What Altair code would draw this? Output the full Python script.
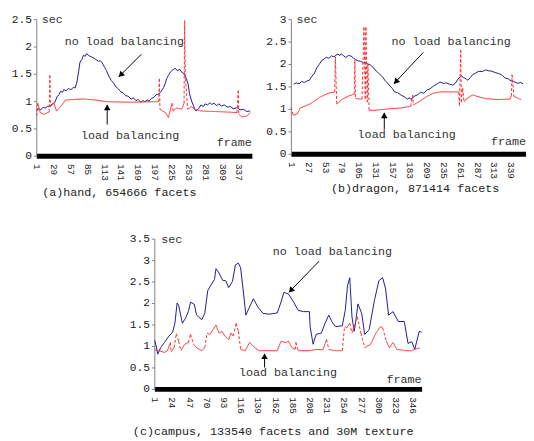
import altair as alt
import numpy as np
import pandas as pd

FONT = "Liberation Mono"
BLUE = "#1c1c8e"
RED = "#ff2b2b"
INK = "#222222"

# ---------------- (a) hand ----------------
a_blue_f = [1, 4, 8, 12, 16, 19, 23, 27, 31, 35, 38, 41, 44, 46, 50, 54, 58, 62, 65, 68,
            71, 73, 76, 79, 82, 84, 88, 92, 96, 100, 104, 107, 110, 114, 117, 121, 125, 129, 133, 137,
            141, 145, 149, 153, 158, 162, 166, 170, 174, 177, 181, 185, 188, 192, 196, 200, 204, 208, 212, 215,
            217, 220, 223, 227, 231, 235, 239, 242, 245, 248, 250, 253, 255, 258, 261, 264, 266, 270, 274, 278,
            281, 285, 289, 292, 296, 300, 304, 308, 313, 318, 323, 328, 334, 339, 345, 350, 356]
a_blue_v = [0.82, 0.86, 0.84, 0.89, 0.87, 0.91, 0.90, 0.95, 0.97, 1.08, 1.12, 1.18, 1.16, 1.21, 1.19, 1.23, 1.21, 1.25, 1.24, 1.35,
            1.55, 1.71, 1.76, 1.84, 1.82, 1.87, 1.83, 1.81, 1.79, 1.76, 1.73, 1.74, 1.70, 1.62, 1.56, 1.46, 1.38, 1.33, 1.26, 1.22,
            1.17, 1.15, 1.10, 1.09, 1.04, 1.06, 1.01, 1.03, 0.98, 1.01, 0.99, 1.02, 1.00, 1.05, 1.07, 1.12, 1.13, 1.18, 1.25, 1.33,
            1.41, 1.47, 1.53, 1.57, 1.60, 1.56, 1.58, 1.53, 1.51, 1.46, 1.41, 1.30, 1.14, 1.02, 0.93, 0.85, 0.82, 0.86, 0.93, 0.90,
            0.95, 0.93, 0.97, 0.94, 0.96, 0.92, 0.95, 0.91, 0.93, 0.89, 0.90, 0.86, 0.88, 0.84, 0.85, 0.81, 0.82]
a_red_f = [1, 3, 7, 13, 22, 23, 24, 30, 34, 41, 49, 79, 100, 117, 155, 204, 205, 206, 210, 215,
           220, 226, 228, 234, 242, 246, 247, 248, 252, 258, 264, 274, 318, 334, 336, 337, 342, 351, 356]
a_red_v = [0.73, 0.96, 0.79, 0.76, 0.80, 1.47, 0.90, 0.96, 0.82, 0.90, 1.02, 1.04, 1.02, 0.99, 0.98, 0.99, 1.41, 0.85, 0.82, 0.79,
           0.70, 0.96, 0.82, 0.875, 0.85, 0.96, 2.48, 1.50, 0.85, 0.90, 0.85, 0.82, 0.80, 0.79, 1.19, 0.76, 0.71, 0.73, 0.79]
a_xticks = [1, 29, 57, 85, 113, 141, 169, 197, 225, 253, 281, 309, 337]
a_yticks = [0, 0.5, 1, 1.5, 2, 2.5]

# ---------------- (b) dragon ----------------
b_blue_f = [5, 9, 13, 17, 21, 25, 29, 33, 37, 40, 44, 48, 52, 55, 59, 63, 67, 70, 73, 76,
            78, 82, 85, 89, 93, 97, 100, 104, 108, 112, 115, 119, 123, 127, 130, 134, 138, 142, 145, 149,
            153, 157, 160, 165, 170, 175, 180, 183, 185, 188, 190, 195, 200, 205, 210, 215, 220, 225, 230, 235,
            240, 245, 250, 254, 258, 261, 263, 266, 268, 271, 273, 277, 280, 285, 290, 295, 300, 305, 310, 315,
            320, 325, 330, 335, 340, 345, 350, 354, 358]
b_blue_v = [1.55, 1.58, 1.56, 1.61, 1.59, 1.62, 1.64, 1.73, 1.80, 1.91, 1.99, 2.08, 2.12, 2.15, 2.13, 2.18, 2.16, 2.20, 2.22, 2.19,
            2.23, 2.18, 2.15, 2.19, 2.18, 2.13, 2.10, 2.07, 2.06, 2.03, 2.04, 2.00, 1.98, 1.93, 1.87, 1.82, 1.76, 1.71, 1.64, 1.58,
            1.51, 1.45, 1.38, 1.36, 1.31, 1.27, 1.22, 1.25, 1.21, 1.24, 1.28, 1.31, 1.37, 1.35, 1.42, 1.45, 1.51, 1.55, 1.60, 1.57,
            1.58, 1.55, 1.53, 1.58, 1.67, 1.71, 1.74, 1.70, 1.69, 1.66, 1.64, 1.70, 1.76, 1.80, 1.84, 1.83, 1.87, 1.85, 1.84, 1.81,
            1.79, 1.76, 1.69, 1.67, 1.62, 1.60, 1.57, 1.59, 1.56]
b_red_f = [1, 4, 10, 15, 30, 45, 58, 68, 69, 71, 80, 90, 98, 99, 100, 110, 113, 115, 116, 118,
           119, 121, 130, 150, 170, 185, 188, 189, 200, 210, 220, 230, 250, 259, 260, 262, 263, 265, 267, 270,
           280, 300, 320, 338, 340, 341, 344, 353, 355]
b_red_v = [1.04, 0.86, 0.89, 1.02, 1.11, 1.26, 1.35, 1.38, 2.16, 1.11, 1.22, 1.29, 1.33, 2.09, 1.23, 1.22, 2.82, 1.22, 2.82, 1.15,
           2.02, 0.97, 0.97, 1.00, 1.02, 1.06, 1.31, 1.09, 1.18, 1.28, 1.35, 1.38, 1.38, 1.38, 1.07, 2.31, 1.15, 1.47, 1.15, 1.22,
           1.31, 1.23, 1.21, 1.22, 1.29, 1.76, 1.28, 1.22, 1.21]
b_xticks = [1, 27, 53, 79, 105, 131, 157, 183, 209, 235, 261, 287, 313, 339]
b_yticks = [0, 0.5, 1, 1.5, 2, 2.5, 3]

# ---------------- (c) campus ----------------
c_blue_f = [1, 3, 5, 9, 14, 20, 25, 28, 31, 33, 38, 42, 46, 49, 54, 57, 64, 68, 72, 77,
            81, 83, 87, 92, 96, 100, 105, 109, 113, 116, 120, 123, 127, 133, 139, 146, 154, 165, 170, 174,
            180, 187, 193, 200, 208, 209, 213, 217, 224, 229, 234, 238, 243, 252, 256, 259, 262, 265, 268, 270,
            273, 278, 282, 288, 295, 301, 306, 310, 314, 320, 327, 335, 340, 345, 349, 355, 358]
c_blue_v = [1.13, 1.00, 0.81, 0.96, 1.08, 1.23, 1.32, 1.53, 2.00, 1.95, 1.53, 1.64, 1.80, 2.02, 1.97, 1.72, 1.61, 1.76, 2.29, 2.44,
            2.55, 2.80, 2.70, 2.53, 2.52, 2.36, 2.50, 2.89, 2.93, 2.82, 2.21, 1.72, 1.87, 2.10, 1.91, 1.76, 1.74, 1.77, 2.02, 2.25,
            2.21, 2.02, 1.83, 1.80, 1.80, 1.45, 1.04, 1.27, 1.30, 1.53, 1.72, 1.57, 1.45, 1.47, 1.83, 2.40, 2.59, 1.68, 1.34, 1.57,
            1.98, 1.76, 1.27, 1.38, 2.06, 2.52, 2.59, 2.33, 1.72, 1.80, 1.57, 1.57, 1.06, 1.10, 0.92, 1.34, 1.32]
c_red_f = [1, 7, 14, 18, 22, 23, 27, 30, 33, 36, 41, 46, 49, 53, 57, 64, 68, 71, 75, 79,
           83, 87, 91, 95, 100, 103, 106, 110, 113, 116, 122, 128, 135, 141, 165, 170, 176, 180, 185, 189,
           190, 193, 208, 217, 226, 231, 234, 243, 252, 255, 258, 262, 265, 268, 272, 277, 282, 290, 297, 303,
           306, 311, 315, 320, 325, 338, 345, 350, 356]
c_red_v = [0.91, 0.89, 0.85, 0.89, 1.08, 0.86, 0.96, 1.29, 1.11, 0.89, 1.04, 1.08, 1.27, 1.04, 0.96, 0.89, 0.96, 1.30, 1.27, 1.38,
           1.49, 1.30, 1.34, 1.23, 1.15, 1.30, 1.23, 1.53, 1.34, 0.92, 0.89, 1.08, 0.96, 0.89, 0.89, 1.11, 1.08, 1.11, 0.96, 0.92,
           1.08, 0.89, 0.89, 0.92, 0.91, 1.15, 0.92, 0.89, 0.89, 1.45, 1.42, 1.53, 1.30, 1.45, 1.68, 1.30, 0.96, 1.04, 1.30, 1.45,
           1.42, 1.11, 0.96, 1.08, 0.92, 0.89, 0.89, 0.93, 0.95]
c_xticks = [1, 24, 47, 70, 93, 116, 139, 162, 185, 208, 231, 254, 277, 300, 323, 346]
c_yticks = [0, 0.5, 1, 1.5, 2, 2.5, 3, 3.5]

NO_LB = "no load balancing"
LB = "load balancing"


def panel(bf, bv, rf, rv, xmax, ymax, xticks, yticks, w, h, ppu,
          sec_f, frame_f, frame_v, nl, lb, arr1, arr2, title, tdx, toff):
    xs = alt.Scale(domain=[0.5, xmax], nice=False, zero=False)
    ys = alt.Scale(domain=[0, ymax], nice=False, zero=True)
    xax = alt.Axis(values=xticks, title=None, grid=False, ticks=False,
                   domainColor="black", domainWidth=5, labelAngle=90,
                   labelAlign="left", labelBaseline="middle",
                   labelFont=FONT, labelFontSize=9.5, labelColor=INK,
                   labelPadding=8, labelOverlap=False, labelFlush=False)
    yax = alt.Axis(values=yticks, format="~g", title=None, grid=False,
                   domainColor="#808080", tickColor="#808080", tickSize=3,
                   labelFont=FONT, labelFontSize=11.5, labelColor=INK,
                   labelPadding=2, labelOverlap=False, labelFlush=False)

    def X(field):
        return alt.X(field, type="quantitative", scale=xs, axis=xax, title=None)

    def Y(field):
        return alt.Y(field, type="quantitative", scale=ys, axis=yax, title=None)

    def text_layer(f, v, s, align):
        df = pd.DataFrame({"f": [f], "v": [v], "s": [s]})
        return alt.Chart(df).mark_text(font=FONT, fontSize=12, color="#333333", align=align,
                                       baseline="middle").encode(x=X("f"), y=Y("v"), text="s:N")

    def arrow_layers(a):
        f1, v1, f2, v2, ang, xo, yo = a
        df = pd.DataFrame({"f": [f1], "v": [v1], "f2": [f2], "v2": [v2]})
        shaft = alt.Chart(df).mark_rule(color="black", strokeWidth=1).encode(
            x=X("f"), x2=alt.X2("f2:Q", title=None), y=Y("v"), y2=alt.Y2("v2:Q", title=None))
        head = alt.Chart(df).mark_point(shape="triangle", filled=True, size=45, color="black",
                                        opacity=1, angle=ang, xOffset=xo, yOffset=yo).encode(
            x=X("f2"), y=Y("v2"))
        return [shaft, head]

    blue = pd.DataFrame({"f": bf, "v": bv})
    line = alt.Chart(blue).mark_line(color=BLUE, strokeWidth=1).encode(x=X("f"), y=Y("v"))
    seg = pd.DataFrame({"f": rf[:-1], "v": rv[:-1], "f2": rf[1:], "v2": rv[1:]})
    rise = np.abs(seg["v2"] - seg["v"]) * ppu / (seg["f2"] - seg["f"])
    seg["style"] = np.where(rise > 2.5, "steep", "flat")
    red = alt.Chart(seg).mark_rule(color=RED, strokeWidth=1).encode(
        x=X("f"), x2=alt.X2("f2:Q", title=None), y=Y("v"), y2=alt.Y2("v2:Q", title=None),
        strokeDash=alt.StrokeDash("style:N", legend=None,
                                  scale=alt.Scale(domain=["flat", "steep"], range=[[1, 0], [3, 2]])))
    layers = [line, red,
              text_layer(sec_f, ymax, "sec", "left"),
              text_layer(frame_f, frame_v, "frame", "right"),
              text_layer(nl[0], nl[1], NO_LB, "center"),
              text_layer(lb[0], lb[1], LB, "center")]
    layers += arrow_layers(arr1)
    layers += arrow_layers(arr2)
    return alt.layer(*layers).properties(
        width=w, height=h,
        title=alt.TitleParams(title, orient="bottom", anchor="start", frame="group", dx=tdx,
                              offset=toff, font=FONT, fontSize=12, fontWeight="normal", color=INK))


pa = panel(a_blue_f, a_blue_v, a_red_f, a_red_v, 358.7, 2.5, a_xticks, a_yticks, 221, 140, 56,
           9.7, 358.7, 0.25, (146.7, 2.09), (156.4, 0.375),
           (175, 1.857, 137.8, 1.446, 225, 2.5, -2.5), (118.3, 0.571, 118.3, 0.93, 0, 0, 3.5),
           "(a)hand, 654666 facets", 6, 7)
pb = panel(b_blue_f, b_blue_v, b_red_f, b_red_v, 362.5, 3, b_xticks, b_yticks, 241, 138, 46,
           9.1, 362.5, 0.28, (247.2, 2.52), (178.8, 0.435),
           (204.3, 2.26, 159.3, 1.565, 223, 2.5, -2.5), (144.3, 0.54, 144.3, 0.913, 0, 0, 3.5),
           "(b)dragon, 871414 facets", 41, 5)
pc = panel(c_blue_f, c_blue_v, c_red_f, c_red_v, 358.2, 3.5, c_xticks, c_yticks, 274, 154, 44,
           9.6, 358.2, 0.227, (238.7, 3.2), (179.4, 0.386),
           (221.1, 2.977, 180.7, 2.25, 224, 2.5, -2.5), (148, 0.5, 148, 0.818, 0, 0, 3.5),
           "(c)campus, 133540 facets and 30M texture", -22, 13)

SP = 95
spacer = alt.Chart(pd.DataFrame({"k": [0]})).mark_rule(
    opacity=0, strokeOpacity=0, color="white").encode(
    x=alt.value(0), x2=alt.value(SP), y=alt.value(0)).properties(width=SP, height=1)

row1 = alt.hconcat(pa, pb, spacing=13)
row2 = alt.hconcat(spacer, pc, spacing=0)
chart = alt.vconcat(row1, row2, spacing=35).properties(
    padding={"left": 3, "top": 0, "right": 0, "bottom": 0},
    background="white"
).configure_view(strokeWidth=0).configure_axis(labelOverlap=False)

chart.save("out.html", embed_options={"renderer": "svg", "actions": False})
